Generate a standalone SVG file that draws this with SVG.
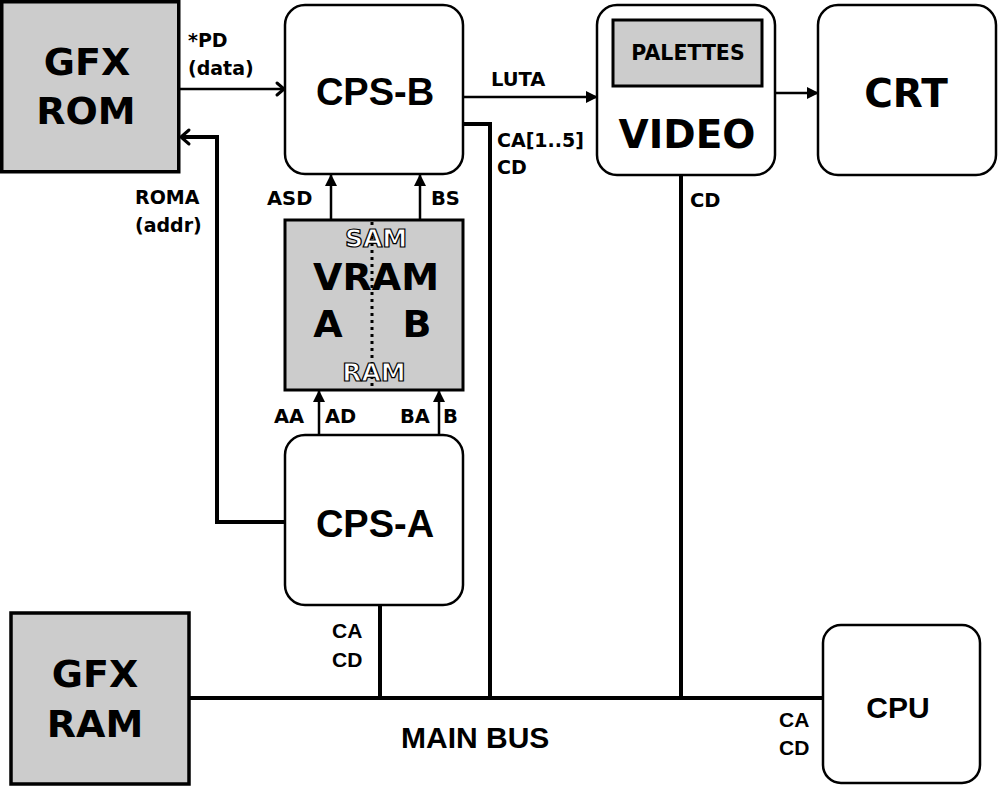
<svg xmlns="http://www.w3.org/2000/svg" width="998" height="792" viewBox="0 0 998 792">
<style>
.box{fill:#fff;stroke:#000;stroke-width:2.5}
.gray{fill:#cccccc;stroke:#000;stroke-width:3.5}
.v{font-family:"DejaVu Sans",Verdana,sans-serif;font-weight:bold;fill:#000}
.a{font-family:"Liberation Sans",Arial,sans-serif;font-weight:bold;fill:#000}
.ol{font-family:"DejaVu Sans",Verdana,sans-serif;font-weight:bold;fill:#fff;stroke:#000;stroke-width:1.2}
.w{fill:none;stroke:#000;stroke-width:4}
.t{fill:none;stroke:#000;stroke-width:2.5}
.chev{fill:none;stroke:#000;stroke-width:3;stroke-linecap:round;stroke-linejoin:round}
</style>
<defs>
<marker id="tri" markerWidth="12" markerHeight="12" refX="11" refY="6" orient="auto" markerUnits="userSpaceOnUse">
<path d="M0,0 L12,6 L0,12 Z" fill="#000"/>
</marker>
</defs>

<g id="connectors">
<!-- GFX ROM -> CPS-B -->
<line class="t" x1="179" y1="89" x2="284" y2="89"/>
<polyline class="chev" points="277,83 284,89 277,95"/>
<!-- CPS-A -> GFX ROM (ROMA) -->
<polyline class="w" points="286,522 217,522 217,137 181,137"/>
<polyline class="chev" points="189,130 181,137 189,144"/>
<!-- LUTA -->
<line class="t" x1="463" y1="97" x2="597" y2="97" marker-end="url(#tri)"/>
<!-- VIDEO -> CRT -->
<line class="t" x1="775" y1="93" x2="818" y2="93" marker-end="url(#tri)"/>
<!-- CPS-B CA[1..5] to bus -->
<polyline class="w" points="463,124 490,124 490,698"/>
<!-- VIDEO CD to bus -->
<line class="w" x1="681" y1="175" x2="681" y2="698"/>
<!-- CPS-A to bus -->
<line class="w" x1="380" y1="605" x2="380" y2="698"/>
<!-- main bus -->
<line class="w" x1="189" y1="698" x2="823" y2="698"/>
<!-- VRAM -> CPS-B -->
<line class="t" x1="331" y1="220" x2="331" y2="175" marker-end="url(#tri)"/>
<line class="t" x1="420" y1="220" x2="420" y2="175" marker-end="url(#tri)"/>
<!-- CPS-A -> VRAM -->
<line class="t" x1="319" y1="436" x2="319" y2="391" marker-end="url(#tri)"/>
<line class="t" x1="439" y1="436" x2="439" y2="391" marker-end="url(#tri)"/>
</g>

<g id="gfxrom">
<rect class="gray" x="1.75" y="1.75" width="177" height="170"/>
<text class="v" x="87" y="75" font-size="38" text-anchor="middle">GFX</text>
<text class="v" x="86" y="124" font-size="38" text-anchor="middle">ROM</text>
</g>

<g id="cpsb">
<rect class="box" x="285" y="5" width="178" height="169" rx="20"/>
<text class="a" x="375" y="105" font-size="38" text-anchor="middle">CPS-B</text>
</g>

<g id="video">
<rect class="box" x="597" y="5" width="178" height="170" rx="20"/>
<rect class="gray" x="613" y="20" width="149" height="66" style="stroke-width:3"/>
<text class="v" x="688" y="60" font-size="20.5" text-anchor="middle">PALETTES</text>
<text class="v" x="687" y="148" font-size="39" text-anchor="middle">VIDEO</text>
</g>

<g id="crt">
<rect class="box" x="818" y="5" width="178" height="170" rx="20"/>
<text class="v" x="906" y="107" font-size="39" text-anchor="middle">CRT</text>
</g>

<g id="vram">
<rect class="gray" x="285" y="220" width="178" height="170" style="stroke-width:3"/>
<line x1="372" y1="222" x2="372" y2="388" stroke="#000" stroke-width="3" stroke-dasharray="3 4"/>
<text class="ol" x="376" y="247" font-size="25" text-anchor="middle">SAM</text>
<text class="v" x="376" y="290" font-size="38" text-anchor="middle">VRAM</text>
<text class="v" x="328" y="337" font-size="38" text-anchor="middle">A</text>
<text class="v" x="417" y="337" font-size="38" text-anchor="middle">B</text>
<text class="ol" x="374" y="381" font-size="25" text-anchor="middle">RAM</text>
</g>

<g id="cpsa">
<rect class="box" x="285" y="435" width="178" height="170" rx="20"/>
<text class="a" x="375" y="537" font-size="38" text-anchor="middle">CPS-A</text>
</g>

<g id="gfxram">
<rect class="gray" x="11" y="613" width="178" height="171"/>
<text class="v" x="95" y="687" font-size="38" text-anchor="middle">GFX</text>
<text class="v" x="95" y="737" font-size="38" text-anchor="middle">RAM</text>
</g>

<g id="cpu">
<rect class="box" x="823" y="625" width="157" height="158" rx="18"/>
<text class="a" x="898" y="718" font-size="30" text-anchor="middle">CPU</text>
</g>

<g id="labels">
<text class="v" x="188" y="47" font-size="19">*PD</text>
<text class="v" x="188" y="75" font-size="19">(data)</text>
<text class="v" x="135" y="204" font-size="19">ROMA</text>
<text class="v" x="135" y="232" font-size="19">(addr)</text>
<text class="v" x="491" y="86" font-size="19.5">LUTA</text>
<text class="v" x="497" y="147" font-size="19">CA[1..5]</text>
<text class="v" x="497" y="174" font-size="19">CD</text>
<text class="v" x="690" y="207" font-size="19.5">CD</text>
<text class="v" x="267" y="205" font-size="19.5">ASD</text>
<text class="v" x="431" y="205" font-size="19.5">BS</text>
<text class="v" x="274" y="423" font-size="19.5">AA</text>
<text class="v" x="325" y="423" font-size="19.5">AD</text>
<text class="v" x="400" y="423" font-size="19.5">BA</text>
<text class="v" x="443" y="423" font-size="19.5">B</text>
<text class="a" x="332" y="638" font-size="21">CA</text>
<text class="a" x="332" y="667" font-size="21">CD</text>
<text class="a" x="779" y="727" font-size="21">CA</text>
<text class="a" x="779" y="755" font-size="21">CD</text>
<text class="a" x="401" y="748" font-size="30">MAIN BUS</text>
</g>
</svg>
